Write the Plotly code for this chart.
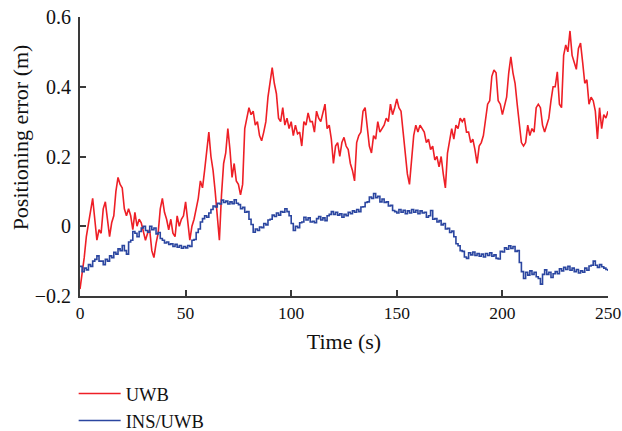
import plotly.graph_objects as go

# Time axis (s), one sample per second
time_s = list(range(251))

# Positioning error of the UWB-only solution (m)
uwb_error = [
    -0.18, -0.14, -0.09, -0.03, 0.01, 0.05, 0.08, 0.02, -0.04, -0.01,
    -0.02, 0.05, 0.07, 0.02, -0.03, 0.01, 0.03, 0.10, 0.14, 0.12,
    0.11, 0.05, 0.03, 0.05, 0.03, -0.01, 0.04, 0.00, 0.02, 0.01,
    -0.02, -0.04, -0.02, -0.01, -0.07, -0.09, -0.05, -0.02, 0.05, 0.08,
    0.04, 0.02, -0.01, 0.02, -0.02, -0.03, 0.03, 0.00, 0.02, 0.03,
    0.07, 0.02, -0.04, 0.00, 0.02, 0.05, 0.08, 0.13, 0.11, 0.16,
    0.21, 0.27, 0.20, 0.16, 0.10, 0.03, -0.04, 0.09, 0.18, 0.21,
    0.28, 0.22, 0.14, 0.18, 0.13, 0.12, 0.09, 0.12, 0.28, 0.31,
    0.34, 0.32, 0.33, 0.29, 0.30, 0.26, 0.245, 0.27, 0.30, 0.37,
    0.42, 0.455, 0.41, 0.38, 0.31, 0.30, 0.34, 0.29, 0.31, 0.28,
    0.30, 0.26, 0.29, 0.265, 0.27, 0.23, 0.30, 0.29, 0.325, 0.30,
    0.30, 0.27, 0.33, 0.31, 0.30, 0.33, 0.35, 0.28, 0.29, 0.25,
    0.18, 0.23, 0.24, 0.20, 0.24, 0.255, 0.23, 0.22, 0.18, 0.16,
    0.13, 0.24, 0.26, 0.27, 0.33, 0.34, 0.29, 0.23, 0.21, 0.26,
    0.25, 0.30, 0.27, 0.28, 0.29, 0.31, 0.30, 0.35, 0.32, 0.34,
    0.365, 0.34, 0.33, 0.27, 0.21, 0.15, 0.12, 0.19, 0.26, 0.29,
    0.27, 0.29, 0.28, 0.27, 0.24, 0.25, 0.22, 0.23, 0.19, 0.20,
    0.17, 0.20, 0.15, 0.11, 0.21, 0.24, 0.28, 0.25, 0.29, 0.28,
    0.31, 0.30, 0.31, 0.27, 0.27, 0.24, 0.25, 0.22, 0.18, 0.23,
    0.24, 0.26, 0.30, 0.35, 0.36, 0.43, 0.448, 0.44, 0.36, 0.35,
    0.32, 0.35, 0.37, 0.44, 0.486, 0.44, 0.41, 0.35, 0.30, 0.24,
    0.23, 0.24, 0.29, 0.26, 0.28, 0.27, 0.34, 0.35, 0.34, 0.29,
    0.27, 0.29, 0.31, 0.36, 0.40, 0.40, 0.443, 0.35, 0.34, 0.49,
    0.52, 0.50, 0.56, 0.49, 0.47, 0.45, 0.51, 0.525, 0.47, 0.41,
    0.42, 0.35, 0.37, 0.36, 0.33, 0.25, 0.34, 0.28, 0.32, 0.31,
    0.33,
]

# Positioning error of the integrated INS/UWB solution (m)
ins_uwb_error = [
    -0.115, -0.13, -0.12, -0.125, -0.11, -0.115, -0.10, -0.095, -0.085, -0.10,
    -0.10, -0.11, -0.095, -0.10, -0.085, -0.09, -0.075, -0.08, -0.065, -0.07,
    -0.055, -0.07, -0.08, -0.045, -0.04, -0.015, -0.02, -0.03, -0.015, -0.005,
    0.00, -0.012, -0.017, 0.00, -0.01, -0.005, -0.022, -0.018, -0.035, -0.04,
    -0.048, -0.045, -0.052, -0.05, -0.058, -0.052, -0.06, -0.055, -0.063, -0.058,
    -0.062, -0.055, -0.058, -0.04, -0.038, -0.018, -0.008, 0.012, 0.022, 0.03,
    0.026, 0.038, 0.048, 0.058, 0.055, 0.066, 0.064, 0.075, 0.068, 0.072,
    0.064, 0.07, 0.065, 0.076, 0.066, 0.062, 0.05, 0.054, 0.04, 0.042,
    0.02, 0.005, -0.017, -0.008, -0.012, -0.002, -0.004, 0.008, 0.004, 0.018,
    0.02, 0.032, 0.028, 0.038, 0.032, 0.042, 0.04, 0.05, 0.042, 0.03,
    0.008, -0.012, 0.00, -0.004, 0.01, 0.012, 0.026, 0.018, 0.024, 0.012,
    0.014, 0.01, 0.022, 0.028, 0.018, 0.024, 0.016, 0.03, 0.034, 0.042,
    0.034, 0.04, 0.032, 0.036, 0.026, 0.034, 0.03, 0.04, 0.036, 0.044,
    0.04, 0.048, 0.042, 0.055, 0.056, 0.068, 0.07, 0.084, 0.08, 0.094,
    0.082, 0.086, 0.07, 0.078, 0.068, 0.07, 0.058, 0.06, 0.045, 0.042,
    0.038, 0.048, 0.04, 0.046, 0.036, 0.044, 0.038, 0.048, 0.04, 0.046,
    0.036, 0.044, 0.038, 0.04, 0.026, 0.03, 0.045, 0.02, 0.022, 0.012,
    0.016, 0.004, 0.008, -0.008, -0.006, -0.018, -0.014, -0.03, -0.05, -0.056,
    -0.07, -0.072, -0.088, -0.092, -0.076, -0.082, -0.074, -0.084, -0.078, -0.086,
    -0.08, -0.088, -0.078, -0.084, -0.076, -0.086, -0.082, -0.092, -0.094, -0.072,
    -0.074, -0.062, -0.066, -0.056, -0.064, -0.058, -0.072, -0.07, -0.104, -0.13,
    -0.15, -0.132, -0.14, -0.128, -0.138, -0.132, -0.145, -0.15, -0.166, -0.138,
    -0.125, -0.138, -0.132, -0.147, -0.136, -0.13, -0.136, -0.122, -0.128, -0.118,
    -0.124, -0.115, -0.126, -0.12, -0.13, -0.124, -0.134, -0.128, -0.132, -0.12,
    -0.126, -0.114, -0.112, -0.10, -0.112, -0.118, -0.11, -0.116, -0.12, -0.124,
    -0.128,
]

x_ticks = [0, 50, 100, 150, 200, 250]
y_ticks = [-0.2, 0, 0.2, 0.4, 0.6]
y_tick_text = ["\u22120.2", "0", "0.2", "0.4", "0.6"]

FONT = "Liberation Serif"
AXIS_COLOR = "#3a3a3a"
TEXT_COLOR = "#111111"
X_TICK_SIZE = 17.5
Y_TICK_SIZE = 20
TITLE_SIZE = 22
LEGEND_SIZE = 18.5

fig = go.Figure()
fig.add_trace(go.Scatter(
    x=time_s, y=uwb_error, mode="lines", name="UWB",
    line=dict(color="#ee1f26", width=1.6),
))
fig.add_trace(go.Scatter(
    x=time_s, y=ins_uwb_error, mode="lines", name="INS/UWB",
    line=dict(color="#2b46a0", width=1.6, shape="hv"),
))

axis_common = dict(
    ticks="inside", ticklen=6, tickwidth=1.5, tickcolor=AXIS_COLOR,
    showline=True, linecolor=AXIS_COLOR, linewidth=2,
    showgrid=False, zeroline=False, automargin=False,
    ticklabeloverflow="allow",
)

fig.update_layout(
    template="none",
    width=622, height=431,
    margin=dict(l=80, r=14, t=17, b=135),
    paper_bgcolor="white", plot_bgcolor="white",
    font=dict(family=FONT, size=Y_TICK_SIZE, color=TEXT_COLOR),
    showlegend=True,
    legend=dict(
        xref="paper", yref="container",
        x=-0.012, y=0.13, xanchor="left", yanchor="top",
        font=dict(family=FONT, size=LEGEND_SIZE, color=TEXT_COLOR),
        bgcolor="rgba(0,0,0,0)", itemwidth=42,
    ),
    xaxis=dict(
        range=[0, 250], tickvals=x_ticks,
        tickfont=dict(family=FONT, size=X_TICK_SIZE, color=TEXT_COLOR),
        title=dict(text="Time (s)", standoff=12,
                   font=dict(family=FONT, size=TITLE_SIZE, color=TEXT_COLOR)),
        **axis_common,
    ),
    yaxis=dict(
        range=[-0.2, 0.6], tickvals=y_ticks, ticktext=y_tick_text,
        tickfont=dict(family=FONT, size=Y_TICK_SIZE, color=TEXT_COLOR),
        ticklabelstandoff=3,
        **axis_common,
    ),
    annotations=[dict(
        text="Positioning error (m)", textangle=-90,
        xref="paper", yref="paper", x=-0.111, y=0.57,
        xanchor="center", yanchor="middle", showarrow=False,
        font=dict(family=FONT, size=TITLE_SIZE, color=TEXT_COLOR),
    )],
)

fig.write_html("out.html")
